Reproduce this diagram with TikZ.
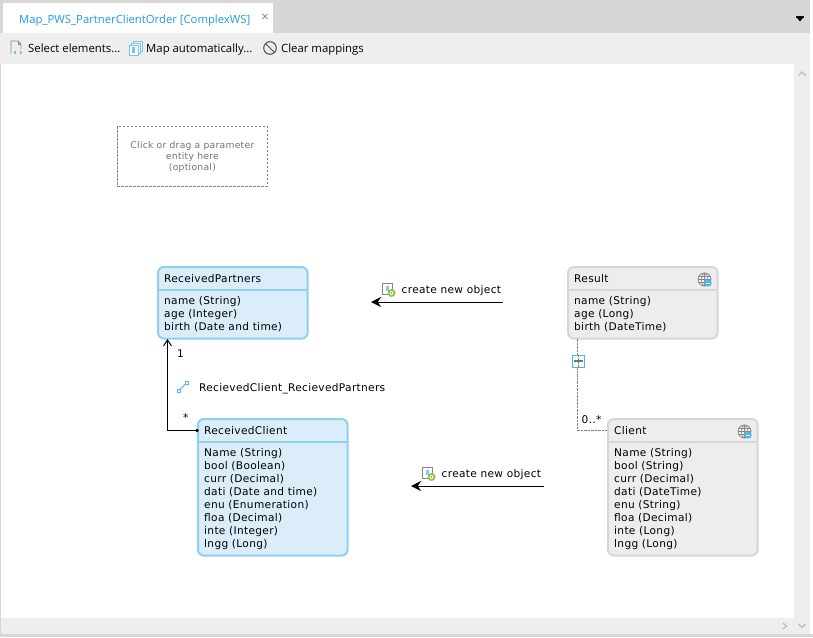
\documentclass[tikz,border=0pt]{standalone}
\usepackage{fontspec}
\setmainfont[LetterSpace=3]{DejaVu Sans}
\newfontfamily\uifont{Open Sans}
\usetikzlibrary{arrows.meta,calc,positioning}
\definecolor{entblue}{HTML}{DAEDF9}
\definecolor{entblueline}{HTML}{8FCFF0}
\definecolor{entgray}{HTML}{EDEDED}
\definecolor{entgrayline}{HTML}{D6D6D6}
\definecolor{tabgray}{HTML}{D6D6D6}
\definecolor{barlight}{HTML}{EEEEEE}
\definecolor{uiblue}{HTML}{1E9BE8}
\definecolor{iconblue}{HTML}{4DB5F0}
\definecolor{icongray}{HTML}{888888}
\definecolor{icongreen}{HTML}{8CC63F}
\definecolor{chevron}{HTML}{BDBDBD}
\tikzset{
  x=1pt,y=-1pt,
  entity/.style={draw,line width=2pt,rounded corners=6pt,minimum width=149.6pt,anchor=north west,inner sep=0pt},
  mapped/.style={entity,fill=entblue,draw=entblueline},
  extern/.style={entity,fill=entgray,draw=entgrayline},
  etitle/.style={anchor=base west,font=\fontsize{10.6pt}{11pt}\selectfont,inner sep=0pt},
  attrs/.style={anchor=north west,font=\fontsize{10.6pt}{13pt}\selectfont,inner sep=0pt,align=left},
  lbl/.style={anchor=base west,font=\fontsize{10.6pt}{11pt}\selectfont,inner sep=0pt},
  tool/.style={anchor=base west,font=\uifont\fontsize{11.35pt}{13pt}\selectfont,inner sep=0pt},
  flow/.style={-{Stealth[length=10pt,width=10pt]},line width=1pt,black},
  assoc/.style={-{Straight Barb[length=6pt,width=8pt]},line width=1pt,black},
  dashlink/.style={dash pattern=on 2.5pt off 1pt,line width=0.8pt,black!50},
  chev/.style={draw=chevron,line width=1.3pt},
}
\newcommand{\globeicon}[2]{%
  \begin{scope}[shift={(#1,#2)}]
    \draw[icongray,line width=.8pt] (0,0) circle (6.5pt);
    \draw[icongray,line width=.6pt] (0,-6.5) -- (0,6.5) (-6.5,0) -- (6.5,0) (-5.5,-3) -- (5.5,-3) (-5.5,3) -- (5.5,3);
    \draw[icongray,line width=.6pt] (0,0) ellipse (3pt and 6.5pt);
    \fill[iconblue] (3.5,3.5) circle (3.7pt);
    \draw[white,line width=.6pt] (1.5,3.5) -- (5.5,3.5);
  \end{scope}}
\newcommand{\createicon}[2]{%
  \begin{scope}[shift={(#1,#2)}]
    \draw[icongray,fill=white,line width=.8pt] (0,0) rectangle (10,11);
    \fill[iconblue!70] (3,2.5) rectangle (6,8);
    \fill[icongreen] (9,10) circle (4pt);
    \fill[white] (9,10) circle (2pt);
    \fill[icongreen] (9,10) circle (1.1pt);
  \end{scope}}
\begin{document}
\begin{tikzpicture}
\useasboundingbox (0,0) rectangle (813,637);
% window chrome
\fill[white] (0,0) rectangle (813,637);
\fill[tabgray] (0,0) rectangle (810,33);
\fill[white] (3,3) rectangle (273,33);
\fill[barlight] (0,33) rectangle (810,64);
\fill[barlight] (794,64) rectangle (810,634);
\fill[barlight] (1,618) rectangle (794,634);
\fill[tabgray] (0,634) rectangle (813,637);
\fill[tabgray] (0,64) rectangle (1,637);
\node[tool,text=uiblue] (tabtitle) at (19,23) {\fontsize{11.3pt}{13pt}\selectfont Map\_PWS\_PartnerClientOrder [ComplexWS]};
\node[anchor=center,text=black!50,font=\uifont\fontsize{13pt}{13pt}\selectfont,inner sep=0pt] (tabclose) at (265,17.5) {×};
\fill[black] (796,16.5) -- (804,16.5) -- (800,21.5) -- cycle;
\fill[black] (796,16) rectangle (804,17.5);
% toolbar
\draw[icongray,line width=.9pt] (11,53.5) -- (11,41) -- (18,41) -- (21,44) -- (21,49);
\draw[icongray,line width=.7pt] (18,41) -- (18,44) -- (21,44);
\draw[iconblue,line width=.9pt] (16,51) -- (14.5,52.5) -- (16,54) (20,51) -- (21.5,52.5) -- (20,54);
\node[tool] (selectel) at (28,52) {Select elements...};
\draw[iconblue!80,line width=.8pt,fill=white] (133,41) rectangle (142,51);
\draw[iconblue!80,line width=.8pt,fill=white] (131,43) rectangle (140,53);
\draw[iconblue!80,line width=.8pt,fill=white] (129,45) rectangle (138,55);
\fill[iconblue!80] (132,47) rectangle (135,53);
\node[tool] (mapauto) at (146,52) {Map automatically...};
\draw[black!70,line width=1pt] (270,48) circle (6.3pt);
\draw[black!70,line width=1pt] (265.6,43.6) -- (274.4,52.4);
\node[tool] (clearmap) at (281,52) {Clear mappings};
% scroll chevrons
\draw[chev] (798.5,75.5) -- (802,72) -- (805.5,75.5);
\draw[chev] (798.5,624) -- (802,627.5) -- (805.5,624);
\draw[chev] (783,623) -- (786.5,626) -- (783,629);
% parameter placeholder
\node[draw=black!50,dash pattern=on 2.5pt off 1.5pt,line width=.8pt,minimum width=150pt,minimum height=60pt,anchor=north west,
  text=black!55,align=center,inner sep=0pt,font=\fontsize{9.2pt}{11pt}\selectfont] (param) at (117,126)
  {\rule{0pt}{0pt}\\[-3.7pt]Click or drag a parameter\\entity here\\(optional)};
% entities
\node[mapped,minimum height=71.6pt] (rp) at (157,266) {};
\draw[entblueline,line width=2pt] (158,289.5) -- (307,289.5);
\node[etitle] (rpt) at (164,282) {ReceivedPartners};
\node[attrs] (rpa) at (164,296.7) {name (String)\\age (Integer)\\birth (Date and time)};

\node[mapped,minimum height=136.6pt] (rc) at (197,418) {};
\draw[entblueline,line width=2pt] (198,441.5) -- (347,441.5);
\node[etitle] (rct) at (204,434) {ReceivedClient};
\node[attrs] (rca) at (204,448.7) {Name (String)\\bool (Boolean)\\curr (Decimal)\\dati (Date and time)\\enu (Enumeration)\\floa (Decimal)\\inte (Integer)\\lngg (Long)};

\node[extern,minimum height=71.6pt] (res) at (567,266) {};
\draw[entgrayline,line width=2pt] (568,289.5) -- (717,289.5);
\node[etitle] (rest) at (574,282) {Result};
\node[attrs] (resa) at (574,296.7) {name (String)\\age (Long)\\birth (DateTime)};
\globeicon{704.5}{279.5}

\node[extern,minimum height=136.6pt] (cl) at (607,418) {};
\draw[entgrayline,line width=2pt] (608,441.5) -- (757,441.5);
\node[etitle] (clt) at (614,434) {Client};
\node[attrs] (cla) at (614,448.7) {Name (String)\\bool (String)\\curr (Decimal)\\dati (DateTime)\\enu (String)\\floa (Decimal)\\inte (Long)\\lngg (Long)};
\globeicon{744.5}{431.5}

% association ReceivedClient -> ReceivedPartners
\coordinate (rcport) at (197,430.5);
\coordinate (rpport) at (167.5,339);
\draw[assoc] (rcport) -| (rpport);
\fill[black] (rcport) circle (1.8pt);
\node[lbl] (one) at (177,357) {1};
\node[lbl] (star) at (183,421) {*};
\draw[iconblue,line width=.8pt] (178.5,391) -- (187,382.5);
\draw[iconblue,line width=.7pt,fill=white] (177,389.5) rectangle (180,392.5);
\draw[iconblue,line width=.7pt,fill=white] (185.5,381) rectangle (188.5,384);
\node[lbl] (assocname) at (199,391) {RecievedClient\_RecievedPartners};

% containment Result - Client
\coordinate (resport) at (577.5,339);
\coordinate (clport) at (607,430.5);
\draw[dashlink] (resport) |- (clport);
\node[draw=iconblue,fill=white,line width=1pt,minimum size=12pt,inner sep=0pt,anchor=center] (collapse) at (578,361) {};
\draw[dashlink] (collapse.north) -- (collapse.south);
\draw[black!55,line width=1.2pt] (573.5,361) -- (582.5,361);
\node[lbl] (zeromany) at (581.5,423) {0..*};

% create-new-object mappings
\coordinate (m1from) at (503,302);
\coordinate (m1to) at (371,302);
\draw[flow] (m1from) -- (m1to);
\createicon{382.5}{283}
\node[lbl] (m1lbl) at (401.5,293) {create new object};
\coordinate (m2from) at (544,486);
\coordinate (m2to) at (411,486);
\draw[flow] (m2from) -- (m2to);
\createicon{422.5}{467}
\node[lbl] (m2lbl) at (441.5,477) {create new object};
\end{tikzpicture}
\end{document}
